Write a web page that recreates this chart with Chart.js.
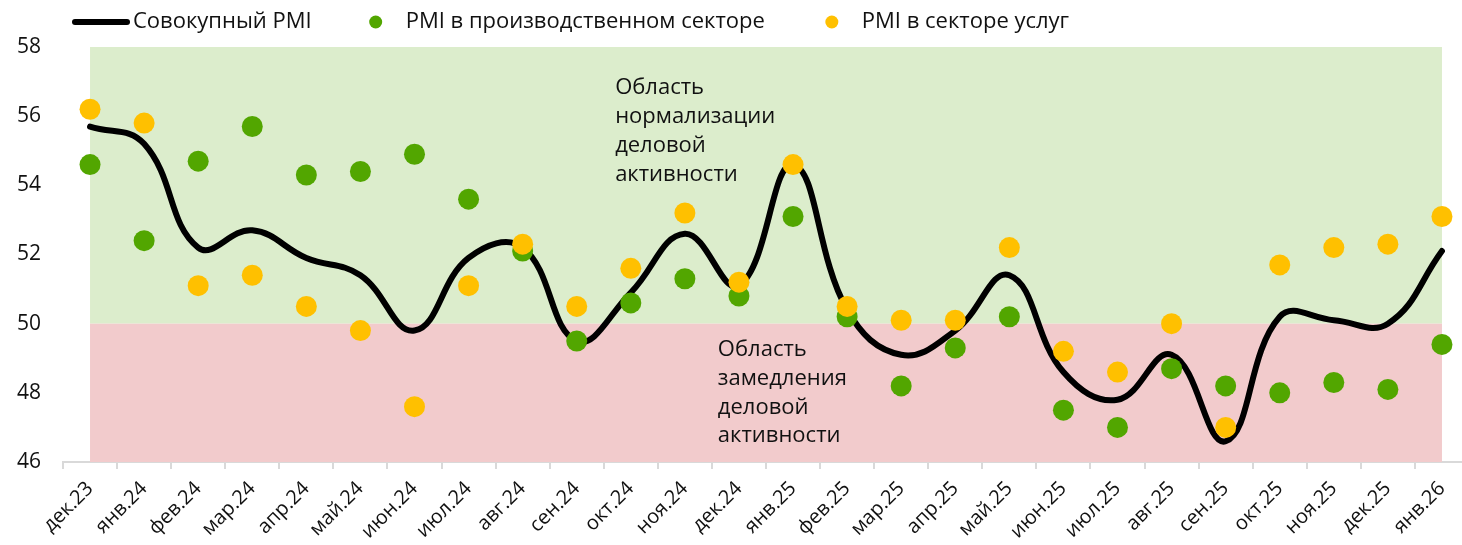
<!DOCTYPE html>
<html lang="ru">
<head>
<meta charset="utf-8">
<script src="https://cdn.jsdelivr.net/npm/chart.js@4/dist/chart.umd.min.js"></script>
<style>
  html, body { margin: 0; padding: 0; background: #fff; overflow: hidden; }
  #wrap { width: 1462px; height: 545px; overflow: hidden; }
</style>
</head>
<body>
<div id="wrap"><canvas id="pmiChart" width="1480" height="545"></canvas></div>
<script>
const months = ['дек.23', 'янв.24', 'фев.24', 'мар.24', 'апр.24', 'май.24', 'июн.24', 'июл.24', 'авг.24',
  'сен.24', 'окт.24', 'ноя.24', 'дек.24', 'янв.25', 'фев.25', 'мар.25', 'апр.25', 'май.25', 'июн.25',
  'июл.25', 'авг.25', 'сен.25', 'окт.25', 'ноя.25', 'дек.25', 'янв.26'];

const compositePMI = [55.7, 55.2, 52.2, 52.7, 51.9, 51.4, 49.8, 51.9, 52.2, 49.5, 50.9, 52.6, 51.1,
  54.6, 50.4, 49.1, 49.8, 51.4, 48.6, 47.8, 49.1, 46.6, 50.2, 50.1, 50.0, 52.1];
const manufacturingPMI = [54.6, 52.4, 54.7, 55.7, 54.3, 54.4, 54.9, 53.6, 52.1, 49.5, 50.6, 51.3, 50.8,
  53.1, 50.2, 48.2, 49.3, 50.2, 47.5, 47.0, 48.7, 48.2, 48.0, 48.3, 48.1, 49.4];
const servicesPMI = [56.2, 55.8, 51.1, 51.4, 50.5, 49.8, 47.6, 51.1, 52.3, 50.5, 51.6, 53.2, 51.2,
  54.6, 50.5, 50.1, 50.1, 52.2, 49.2, 48.6, 50.0, 47.0, 51.7, 52.2, 52.3, 53.1];

const yTicks = [46, 48, 50, 52, 54, 56, 58];
const threshold = 50;

const seriesNames = ['Совокупный PMI', 'PMI в производственном секторе', 'PMI в секторе услуг'];
const growthNote = ['Область', 'нормализации', 'деловой', 'активности'];
const slowdownNote = ['Область', 'замедления', 'деловой', 'активности'];

const FONT = '"Open Sans", Lato, sans-serif';

// фон: зеленая зона выше 50, красная ниже + подписи зон
const bandsPlugin = {
  id: 'bands',
  beforeDatasetsDraw(chart) {
    const { ctx, scales: { x, y } } = chart;
    const x0 = x.getPixelForValue(0);
    const x1 = x.getPixelForValue(months.length - 1);
    const yTop = y.getPixelForValue(yTicks[yTicks.length - 1]);
    const yMid = y.getPixelForValue(threshold);
    const yBot = y.getPixelForValue(yTicks[0]);
    ctx.save();
    ctx.fillStyle = '#dcedcc';
    ctx.fillRect(x0, yTop, x1 - x0, yMid - yTop);
    ctx.fillStyle = '#f2cbcc';
    ctx.fillRect(x0, yMid, x1 - x0, yBot - yMid);
    ctx.restore();
  },
  afterDatasetsDraw(chart) {
    const { ctx, scales: { x, y } } = chart;
    ctx.save();
    ctx.font = '22px ' + FONT;
    ctx.fillStyle = '#111';
    ctx.textBaseline = 'middle';
    const lh = 28.7;
    let px = x.getPixelForValue(9.71), py = y.getPixelForValue(56.81);
    growthNote.forEach((t, i) => ctx.fillText(t, px, py + i * lh));
    px = x.getPixelForValue(11.61); py = y.getPixelForValue(49.24);
    slowdownNote.forEach((t, i) => ctx.fillText(t, px, py + i * lh));
    ctx.restore();
  }
};

// легенда сверху
const legendPlugin = {
  id: 'topLegend',
  afterDraw(chart) {
    const ctx = chart.ctx;
    const yc = 22;
    ctx.save();
    ctx.font = '22px ' + FONT;
    ctx.fillStyle = '#111';
    ctx.textBaseline = 'middle';
    ctx.strokeStyle = '#000';
    ctx.lineWidth = 6;
    ctx.lineCap = 'round';
    ctx.beginPath();
    ctx.moveTo(75, yc);
    ctx.lineTo(127, yc);
    ctx.stroke();
    let tx = 133;
    ctx.fillText(seriesNames[0], tx, yc);
    tx += ctx.measureText(seriesNames[0]).width + 64;
    ctx.fillStyle = '#52a600';
    ctx.beginPath(); ctx.arc(tx, yc, 6.5, 0, Math.PI * 2); ctx.fill();
    ctx.fillStyle = '#111';
    ctx.fillText(seriesNames[1], tx + 30, yc);
    tx += 30 + ctx.measureText(seriesNames[1]).width + 67;
    ctx.fillStyle = '#ffc000';
    ctx.beginPath(); ctx.arc(tx, yc, 6.5, 0, Math.PI * 2); ctx.fill();
    ctx.fillStyle = '#111';
    ctx.fillText(seriesNames[2], tx + 30, yc);
    ctx.restore();
  }
};

const ctx = document.getElementById('pmiChart').getContext('2d');

const pmiChart = new Chart(ctx, {
  type: 'line',
  data: {
    labels: months,
    datasets: [
      {
        label: seriesNames[0],
        data: compositePMI,
        borderColor: '#000',
        borderWidth: 6,
        tension: 0.42,
        pointRadius: 0,
        borderCapStyle: 'round',
        order: 3
      },
      {
        label: seriesNames[1],
        data: manufacturingPMI,
        showLine: false,
        pointRadius: 10.5,
        pointBackgroundColor: '#52a600',
        pointBorderWidth: 0,
        order: 2
      },
      {
        label: seriesNames[2],
        data: servicesPMI,
        showLine: false,
        pointRadius: 10.5,
        pointBackgroundColor: '#ffc000',
        pointBorderWidth: 0,
        order: 1
      }
    ]
  },
  options: {
    responsive: false,
    animation: false,
    layout: { padding: { top: 47, right: 11, left: 0, bottom: 0 } },
    plugins: {
      legend: { display: false },
      tooltip: { enabled: false }
    },
    scales: {
      x: {
        offset: true,
        grid: { offset: true, drawOnChartArea: false, color: '#d9d9d9', tickLength: 7, lineWidth: 2 },
        border: { color: '#d9d9d9', width: 2 },
        ticks: {
          color: '#111',
          font: { family: FONT, size: 20 },
          minRotation: 45,
          maxRotation: 45,
          padding: 8,
          autoSkip: false
        },
        afterFit(scale) { scale.height = 83; }
      },
      y: {
        min: 46,
        max: 58,
        grid: { display: false, drawTicks: false },
        border: { display: false },
        afterBuildTicks(scale) { scale.ticks = yTicks.map(v => ({ value: v })); },
        ticks: {
          color: '#111',
          font: { family: FONT, size: 21 },
          padding: 22
        },
        afterFit(scale) { scale.width = 63; }
      }
    }
  },
  plugins: [bandsPlugin, legendPlugin]
});
</script>
</body>
</html>
